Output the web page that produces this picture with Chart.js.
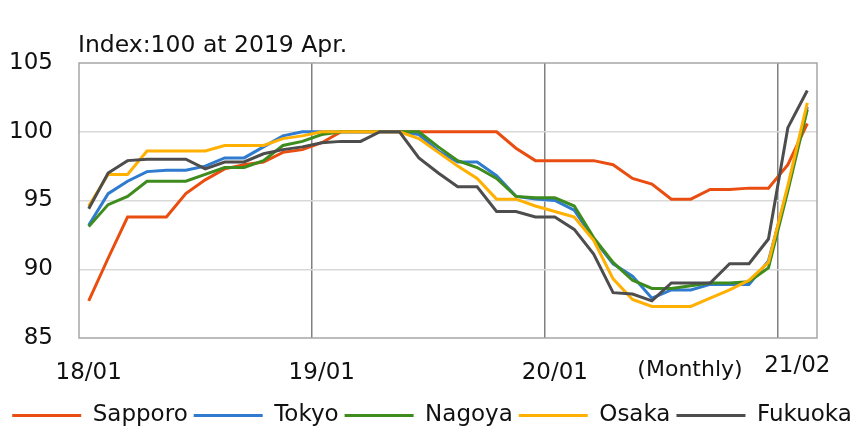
<!DOCTYPE html>
<html>
<head>
<meta charset="utf-8">
<script src="https://cdn.jsdelivr.net/npm/chart.js@4.4.0/dist/chart.umd.min.js"></script>
<style>
  html, body { margin: 0; padding: 0; background: #fff; }
</style>
</head>
<body>
<canvas id="chart" width="864" height="441"></canvas>
<script>
// Months 18/01 .. 21/02
const months = [
    '18/01', '18/02', '18/03', '18/04', '18/05', '18/06', '18/07', '18/08', '18/09', '18/10', '18/11', '18/12',
    '19/01', '19/02', '19/03', '19/04', '19/05', '19/06', '19/07', '19/08', '19/09', '19/10', '19/11', '19/12',
    '20/01', '20/02', '20/03', '20/04', '20/05', '20/06', '20/07', '20/08', '20/09', '20/10', '20/11', '20/12',
    '21/01', '21/02'
];
const shownMonths = ['18/01', '19/01', '20/01'];

// Index values (100 at 2019 Apr.)
const sapporo = [
    87.7, 90.8, 93.8, 93.8, 93.8, 95.5, 96.5, 97.3, 97.6, 97.8, 98.5, 98.7,
    99.2, 100, 100, 100, 100, 100, 100, 100, 100, 100, 98.8, 97.9,
    97.9, 97.9, 97.9, 97.6, 96.6, 96.2, 95.1, 95.1, 95.8, 95.8, 95.9, 95.9,
    97.6, 100.6
];
const tokyo = [
    93.2, 95.5, 96.4, 97.1, 97.2, 97.2, 97.5, 98.1, 98.1, 98.9, 99.7, 100,
    100, 100, 100, 100, 100, 99.8, 98.6, 97.8, 97.8, 96.8, 95.3, 95.1,
    95.0, 94.3, 92.2, 90.4, 89.5, 87.9, 88.5, 88.5, 88.9, 88.9, 88.9, 90.6,
    95.9, 101.8
];
const nagoya = [
    93.1, 94.7, 95.3, 96.4, 96.4, 96.4, 96.9, 97.4, 97.4, 97.9, 99.0, 99.3,
    99.8, 100, 100, 100, 100, 100, 98.9, 97.9, 97.4, 96.6, 95.3, 95.2,
    95.2, 94.6, 92.3, 90.5, 89.2, 88.6, 88.6, 88.8, 89.0, 89.0, 89.1, 90.1,
    95.7, 101.6
];
const osaka = [
    94.6, 96.9, 96.9, 98.6, 98.6, 98.6, 98.6, 99.0, 99.0, 99.0, 99.5, 99.7,
    100, 100, 100, 100, 100, 99.5, 98.5, 97.5, 96.6, 95.1, 95.1, 94.6,
    94.2, 93.8, 92.1, 89.3, 87.8, 87.3, 87.3, 87.3, 87.9, 88.5, 89.2, 90.5,
    96.1, 102.1
];
const fukuoka = [
    94.4, 97.0, 97.9, 98.0, 98.0, 98.0, 97.3, 97.8, 97.8, 98.4, 98.7, 98.9,
    99.2, 99.3, 99.3, 100, 100, 98.1, 97.0, 96.0, 96.0, 94.2, 94.2, 93.8,
    93.8, 92.9, 91.1, 88.3, 88.2, 87.7, 89.0, 89.0, 89.0, 90.4, 90.4, 92.2,
    100.3, 103.0
];

const FONT = 'DejaVu Sans';

function series(label, data, color, order) {
    return {
        label: label,
        data: data,
        borderColor: color,
        backgroundColor: color,
        borderWidth: 3,
        pointRadius: 0,
        tension: 0,
        order: order,
    };
}

// Frame, title and extra axis text
const extras = {
    id: 'extras',
    afterDraw(chart) {
        const { ctx, chartArea: a } = chart;
        ctx.save();
        ctx.strokeStyle = '#a6a6a6';
        ctx.lineWidth = 1.5;
        ctx.strokeRect(a.left, a.top, a.right - a.left, a.bottom - a.top);

        ctx.fillStyle = '#111';
        ctx.textBaseline = 'middle';
        ctx.textAlign = 'left';
        ctx.font = '23.5px "' + FONT + '"';
        ctx.fillText('Index:100 at 2019 Apr.', 78, 46);

        ctx.textAlign = 'center';
        ctx.font = '22px "' + FONT + '"';
        ctx.fillText('(Monthly)', 690, 370);
        ctx.font = '23px "' + FONT + '"';
        ctx.fillText('21/02', chart.scales.x.getPixelForValue(37) - 10, 366);
        ctx.restore();
    }
};

const ctx = document.getElementById('chart').getContext('2d');
const chart = new Chart(ctx, {
    type: 'line',
    data: {
        labels: months,
        datasets: [
            series('Sapporo', sapporo, '#e94e10', 4),
            series('Tokyo', tokyo, '#2f7bcf', 3),
            series('Nagoya', nagoya, '#3e8c1e', 2),
            series('Osaka', osaka, '#ffb000', 1),
            series('Fukuoka', fukuoka, '#4d4d4d', 0),
        ],
    },
    options: {
        responsive: false,
        animation: false,
        layout: { padding: { top: 63, left: 0, right: 0, bottom: 4 } },
        plugins: {
            tooltip: { enabled: false },
            legend: {
                position: 'bottom',
                labels: {
                    boxWidth: 69,
                    boxHeight: 3,
                    padding: 6,
                    color: '#111',
                    font: { family: FONT, size: 23 },
                    sort: (a, b) => a.datasetIndex - b.datasetIndex,
                    generateLabels: (c) => Chart.defaults.plugins.legend.labels.generateLabels(c)
                        .map(l => Object.assign(l, { lineWidth: 0 })),
                },
            },
        },
        scales: {
            x: {
                offset: true,
                grid: {
                    offset: true,
                    drawTicks: false,
                    lineWidth: 1.5,
                    color: (c) => (c.index > 0 && c.index < months.length && c.index % 12 === 0) ? '#808080' : 'rgba(0,0,0,0)',
                },
                border: { display: false },
                ticks: {
                    autoSkip: false,
                    maxRotation: 0,
                    padding: 21,
                    color: '#111',
                    font: { family: FONT, size: 23 },
                    callback: (v, i) => shownMonths.includes(months[i]) ? months[i] : '',
                },
                afterFit: (s) => { s.height = 441 - 4 - s.chart.legend.height - 338; },
            },
            y: {
                min: 85,
                max: 105,
                grid: {
                    drawTicks: false,
                    lineWidth: 1.5,
                    color: (c) => (c.tick && (c.tick.value === 85 || c.tick.value === 105)) ? 'rgba(0,0,0,0)' : '#d9d9d9',
                },
                border: { display: false },
                ticks: {
                    stepSize: 5,
                    padding: 26,
                    color: '#111',
                    font: { family: FONT, size: 23 },
                },
                afterFit: (s) => { s.width = 79; },
            },
            pad: {
                position: 'right',
                display: true,
                grid: { display: false },
                border: { display: false },
                ticks: { display: false },
                afterFit: (s) => { s.width = 47; },
            },
        },
    },
    plugins: [extras],
});
</script>
</body>
</html>
